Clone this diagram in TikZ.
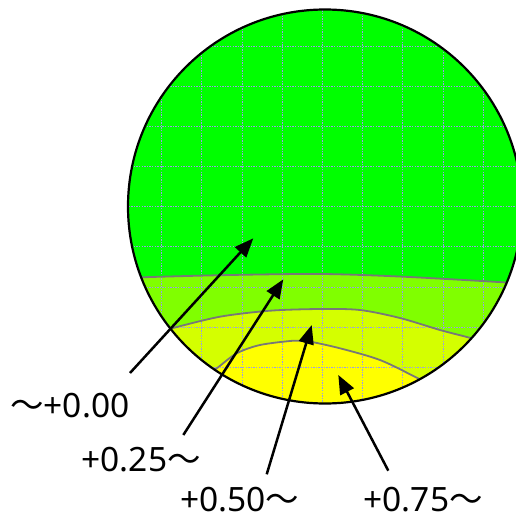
\documentclass[tikz,border=0pt]{standalone}
\usepackage{fontspec}
\setmainfont{Noto Sans}
\newfontfamily\cjkfont{Noto Sans CJK JP}
\usetikzlibrary{arrows.meta}
\definecolor{zoneA}{RGB}{0,255,0}
\definecolor{zoneB}{RGB}{128,255,0}
\definecolor{zoneC}{RGB}{212,255,0}
\definecolor{zoneD}{RGB}{255,255,0}
\definecolor{gridc}{RGB}{155,155,232}
\definecolor{contourc}{RGB}{120,120,120}
\begin{document}
\begin{tikzpicture}[x=1pt,y=-1pt,
  gridline/.style={gridc, line width=0.7pt, dash pattern=on 1.3pt off 1.3pt},
  contour/.style={contourc, line width=1.8pt},
  pointer/.style={line width=2.5pt, -{Triangle[length=19pt,width=15pt]}},
  lbl/.style={anchor=base west, inner sep=0pt, font=\fontsize{33.5}{40}\selectfont}]
\useasboundingbox (0,0) rectangle (515,517);
\coordinate (c) at (325,206.5);
\begin{scope}
  \clip (c) circle (197pt);
  \fill[zoneA] (c) circle (197pt);
  \fill[zoneB] plot[smooth] coordinates {(110,279) (141.7,277.3) (230,275) (322.3,274) (403.3,276.7) (503.3,282.3) (540,285)} -- (540,420) -- (110,420) -- cycle;
  \fill[zoneC] plot[smooth] coordinates {(150,334) (171.7,328.3) (220,316.7) (270,310.7) (320,309) (360,310) (400,318) (440,330) (468,337.3) (495,345)} -- (495,420) -- (150,420) -- cycle;
  \fill[zoneD] plot[smooth] coordinates {(195,383) (216.7,368.3) (236.7,353.3) (260,345) (293.3,340.7) (306.7,341) (340,348.3) (380,360) (416.7,377.7) (440,390)} -- (440,420) -- (195,420) -- cycle;
  \foreach \i in {-4,...,4} {
    \draw[gridline] ({322.3+40.2*\i},0) -- ({322.3+40.2*\i},420);
    \draw[gridline] (100,{206.7+40.1*\i}) -- (540,{206.7+40.1*\i});
  }
  \draw[contour] plot[smooth] coordinates {(110,279) (141.7,277.3) (230,275) (322.3,274) (403.3,276.7) (503.3,282.3) (540,285)};
  \draw[contour] plot[smooth] coordinates {(150,334) (171.7,328.3) (220,316.7) (270,310.7) (320,309) (360,310) (400,318) (440,330) (468,337.3) (495,345)};
  \draw[contour] plot[smooth] coordinates {(195,383) (216.7,368.3) (236.7,353.3) (260,345) (293.3,340.7) (306.7,341) (340,348.3) (380,360) (416.7,377.7) (440,390)};
\end{scope}
\draw[line width=2.2pt] (c) circle (197pt);
\coordinate (t0) at (130,373);   \coordinate (h0) at (253.3,238.3);
\coordinate (t1) at (183.3,435); \coordinate (h1) at (283.3,279.3);
\coordinate (t2) at (266.7,474.3); \coordinate (h2) at (311.7,325);
\coordinate (t3) at (388.3,470.7); \coordinate (h3) at (338.3,375);
\draw[pointer] (t0) -- (h0);
\draw[pointer] (t1) -- (h1);
\draw[pointer] (t2) -- (h2);
\draw[pointer] (t3) -- (h3);
\node[lbl] (l0) at (10,417) {{\cjkfont ～}+0.00};
\node[lbl] (l1) at (81.4,471) {+0.25{\cjkfont ～}};
\node[lbl] (l2) at (180,511) {+0.50{\cjkfont ～}};
\node[lbl] (l3) at (363.4,511) {+0.75{\cjkfont ～}};
\end{tikzpicture}
\end{document}
